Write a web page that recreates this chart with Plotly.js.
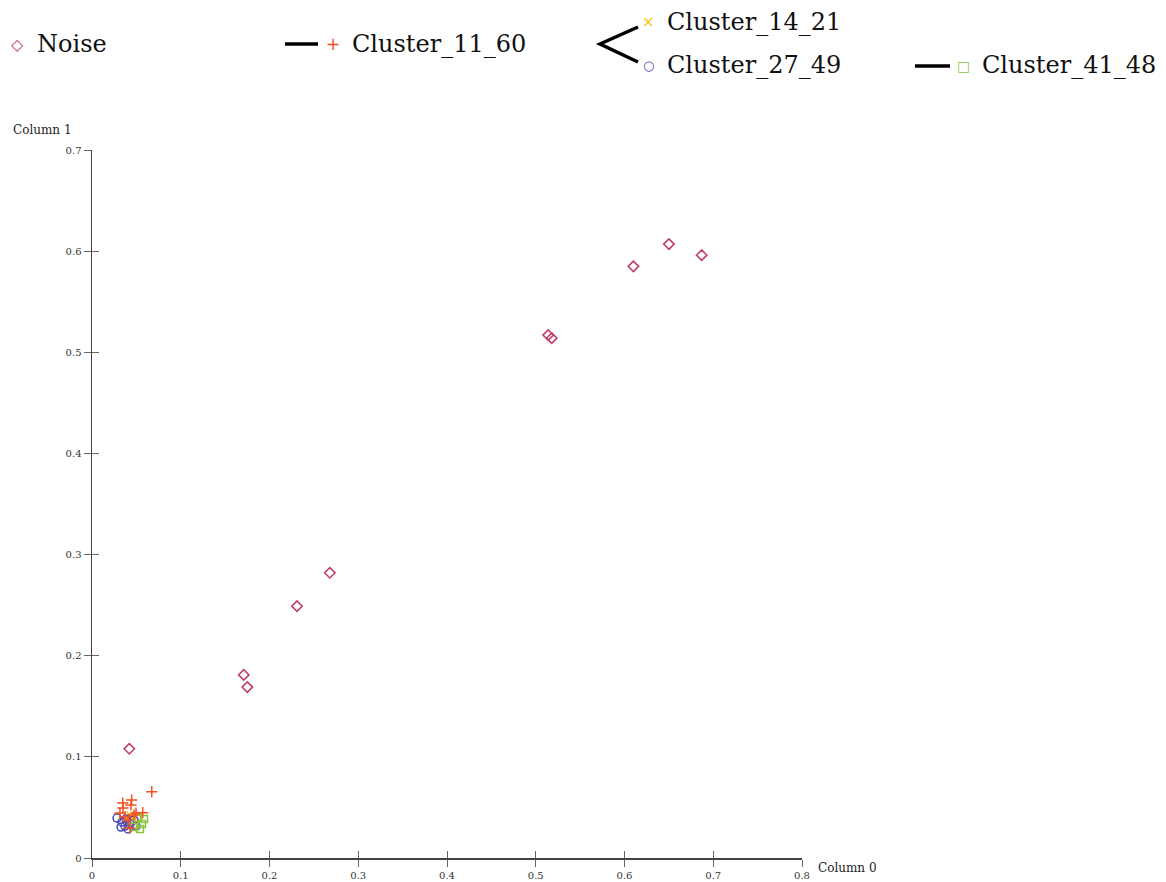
<!DOCTYPE html>
<html>
<head>
<meta charset="utf-8">
<script src="https://cdn.plot.ly/plotly-3.0.1.min.js"></script>
<style>html,body{margin:0;padding:0;background:#fff;}#chart{width:1166px;height:882px;}</style>
</head>
<body>
<div id="chart"></div>
<script>
// ---- data ----
const noiseX = [0.042, 0.171, 0.175, 0.231, 0.268, 0.514, 0.518, 0.610, 0.650, 0.687];
const noiseY = [0.108, 0.181, 0.169, 0.249, 0.282, 0.517, 0.514, 0.585, 0.607, 0.596];

const c1160X = [0.0673, 0.0447, 0.0346, 0.0439, 0.0349, 0.0571, 0.0496, 0.0315, 0.0428, 0.0372, 0.0406, 0.0473];
const c1160Y = [0.0656, 0.0573, 0.0544, 0.0524, 0.0494, 0.0448, 0.0445, 0.0445, 0.0297, 0.0408, 0.0376, 0.0425];

const c1421X = [0.0428, 0.0394, 0.0462];
const c1421Y = [0.0425, 0.0395, 0.0405];

const c2749X = [0.0282, 0.0338, 0.0372, 0.0428, 0.0473, 0.0406, 0.0327, 0.0496, 0.0383];
const c2749Y = [0.0395, 0.0356, 0.0316, 0.0336, 0.0376, 0.0287, 0.0306, 0.0316, 0.0386];

const c4148X = [0.0518, 0.0563, 0.0541, 0.0473, 0.0586];
const c4148Y = [0.0395, 0.0336, 0.0287, 0.0306, 0.0386];

const xTicks = [0, 0.1, 0.2, 0.3, 0.4, 0.5, 0.6, 0.7, 0.8];
const yTicks = [0, 0.1, 0.2, 0.3, 0.4, 0.5, 0.6, 0.7];
const xTickText = ["0", "0.1", "0.2", "0.3", "0.4", "0.5", "0.6", "0.7", "0.8"];
const yTickText = ["0", "0.1", "0.2", "0.3", "0.4", "0.5", "0.6", "0.7"];

const seriesNames = ["Noise", "Cluster_11_60", "Cluster_14_21", "Cluster_27_49", "Cluster_41_48"];
const colors = {
  noise: "#c0406a",
  c1160: "#f0501e",
  c1421: "#f5c518",
  c2749: "#4a4ab4",
  c4148: "#8cc63f"
};

// ---- layout helpers ----
const W = 1166, H = 882;
const M = {l: 92, r: 364, t: 150, b: 24};
const PW = W - M.l - M.r, PH = H - M.t - M.b;
const px = x => (x - M.l) / PW;
const py = y => (H - M.b - y) / PH;
const FONT = "DejaVu Serif, Liberation Serif, serif";

const traces = [
  {x: c1421X, y: c1421Y, name: seriesNames[2], mode: "markers", type: "scatter",
   marker: {symbol: "x-thin-open", size: 7, color: colors.c1421, line: {width: 1.5, color: colors.c1421}}},
  {x: c2749X, y: c2749Y, name: seriesNames[3], mode: "markers", type: "scatter",
   marker: {symbol: "circle-open", size: 8, color: colors.c2749, line: {width: 1.5}}},
  {x: c4148X, y: c4148Y, name: seriesNames[4], mode: "markers", type: "scatter",
   marker: {symbol: "square-open", size: 7, color: colors.c4148, line: {width: 1.5}}},
  {x: c1160X, y: c1160Y, name: seriesNames[1], mode: "markers", type: "scatter",
   marker: {symbol: "cross-thin-open", size: 8, color: colors.c1160, line: {width: 1.5, color: colors.c1160}}},
  {x: noiseX, y: noiseY, name: seriesNames[0], mode: "markers", type: "scatter",
   marker: {symbol: "diamond-open", size: 8, color: colors.noise, line: {width: 1.6}}}
];

// legend built by hand
const legSym = [
  {x: 17, y: 44, t: "◇", c: colors.noise, s: 16},
  {x: 333, y: 44, t: "+", c: colors.c1160, s: 17},
  {x: 648, y: 22, t: "×", c: colors.c1421, s: 15},
  {x: 648, y: 65, t: "○", c: colors.c2749, s: 13},
  {x: 964, y: 66, t: "□", c: colors.c4148, s: 14}
];
const legTxt = [
  {x: 35, y: 44, t: seriesNames[0]},
  {x: 350, y: 44, t: seriesNames[1]},
  {x: 665, y: 22, t: seriesNames[2]},
  {x: 665, y: 65, t: seriesNames[3]},
  {x: 980, y: 65, t: seriesNames[4]}
];
const annotations = [];
legSym.forEach(o => annotations.push({xref: "paper", yref: "paper", x: px(o.x), y: py(o.y),
  text: o.t, showarrow: false, xanchor: "center", yanchor: "middle",
  font: {family: "DejaVu Sans", size: o.s, color: o.c}}));
legTxt.forEach(o => annotations.push({xref: "paper", yref: "paper", x: px(o.x), y: py(o.y),
  text: o.t, showarrow: false, xanchor: "left", yanchor: "middle",
  font: {family: FONT, size: 24, color: "#111"}}));
annotations.push({xref: "paper", yref: "paper", x: px(11), y: py(130), text: "Column 1",
  showarrow: false, xanchor: "left", yanchor: "middle", font: {family: FONT, size: 12, color: "#222"}});
annotations.push({xref: "paper", yref: "paper", x: px(816), y: py(868), text: "Column 0",
  showarrow: false, xanchor: "left", yanchor: "middle", font: {family: FONT, size: 12, color: "#222"}});

const shapes = [
  {type: "line", xref: "paper", yref: "paper", x0: px(285), x1: px(318), y0: py(44), y1: py(44), line: {color: "#000", width: 3.5}},
  {type: "path", xref: "paper", yref: "paper",
   path: `M ${px(638)} ${py(27)} L ${px(600)} ${py(44)} L ${px(638)} ${py(62)}`,
   line: {color: "#000", width: 3.5}},
  {type: "line", xref: "paper", yref: "paper", x0: px(915), x1: px(950), y0: py(66), y1: py(66), line: {color: "#000", width: 3.5}}
];

const axBase = {
  showgrid: false, zeroline: false, showline: true, linecolor: "#444", linewidth: 1.5,
  tickcolor: "#666", tickwidth: 1, ticklen: 7, ticks: "outside", mirror: false,
  fixedrange: true
};

const layout = {
  width: W, height: H,
  margin: M,
  paper_bgcolor: "#fff", plot_bgcolor: "#fff",
  showlegend: false,
  font: {family: FONT, size: 10, color: "#333"},
  xaxis: Object.assign({}, axBase, {range: [0, 0.8], tickvals: xTicks, ticktext: xTickText,
    tickfont: {family: FONT, size: 10, color: "#333"}}),
  yaxis: Object.assign({}, axBase, {range: [0, 0.7], tickvals: yTicks, ticktext: yTickText,
    tickfont: {family: FONT, size: 10, color: "#333"}}),
  xaxis2: Object.assign({}, axBase, {overlaying: "x", range: [0, 0.8], tickvals: xTicks,
    showticklabels: false, ticks: "inside", side: "bottom", anchor: "y"}),
  yaxis2: Object.assign({}, axBase, {overlaying: "y", range: [0, 0.7], tickvals: yTicks,
    showticklabels: false, ticks: "inside", side: "left", anchor: "x"}),
  annotations: annotations,
  shapes: shapes
};

// an invisible trace to activate the second axes
traces.unshift({x: [0], y: [0], xaxis: "x2", yaxis: "y2", mode: "markers",
  marker: {opacity: 0}, hoverinfo: "skip", showlegend: false, type: "scatter"});

Plotly.newPlot("chart", traces, layout, {displayModeBar: false, staticPlot: true});
</script>
</body>
</html>
